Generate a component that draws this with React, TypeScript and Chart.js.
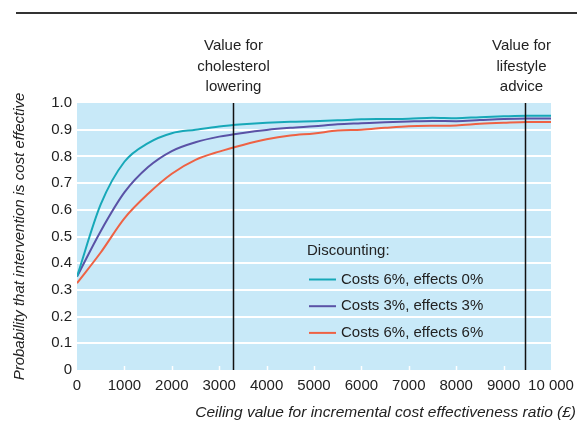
import React, { useEffect, useRef } from "react";
import { Chart, registerables } from "chart.js";

Chart.register(...registerables);

// ---- data ----
const ceilingValues = [0, 500, 1000, 1500, 2000, 2500, 3000, 3500, 4000, 4500, 5000, 5500, 6000, 6500, 7000, 7500, 8000, 8500, 9000, 9500, 10000];
const costs6Effects0 = [0.35, 0.62, 0.78, 0.85, 0.887, 0.9, 0.912, 0.92, 0.926, 0.93, 0.932, 0.935, 0.939, 0.94, 0.941, 0.945, 0.943, 0.947, 0.95, 0.952, 0.952];
const costs3Effects3 = [0.35, 0.52, 0.665, 0.76, 0.82, 0.853, 0.874, 0.888, 0.899, 0.907, 0.913, 0.92, 0.924, 0.928, 0.931, 0.933, 0.932, 0.936, 0.94, 0.942, 0.942];
const costs6Effects6 = [0.325, 0.44, 0.568, 0.66, 0.735, 0.787, 0.818, 0.843, 0.864, 0.878, 0.886, 0.897, 0.9, 0.907, 0.913, 0.915, 0.916, 0.922, 0.926, 0.929, 0.929];
const seriesLabels = ["Costs 6%, effects 0%", "Costs 3%, effects 3%", "Costs 6%, effects 6%"];
const xTickValues = [0, 1000, 2000, 3000, 4000, 5000, 6000, 7000, 8000, 9000, 10000];
const yTickValues = [0, 0.1, 0.2, 0.3, 0.4, 0.5, 0.6, 0.7, 0.8, 0.9, 1.0];
const annotations = [
  { value: 3300, lines: ["Value for", "cholesterol", "lowering"], shift: 0 },
  { value: 9450, lines: ["Value for", "lifestyle", "advice"], shift: -4 },
];
const legendTitle = "Discounting:";
const xTitle = "Ceiling value for incremental cost effectiveness ratio (£)";
const yTitle = "Probability that intervention is cost effective";

const COLORS = ["#17a8b8", "#5a52a6", "#ee6244"];
const BG = "#c8e9f8";
const FONT = "'Liberation Sans', Arial, sans-serif";
const TEXT = "#222";

const decorPlugin = {
  id: "decor",
  beforeDraw(chart: any) {
    const { ctx, chartArea: a } = chart;
    ctx.save();
    ctx.fillStyle = "#fff";
    ctx.fillRect(0, 0, chart.width, chart.height);
    ctx.fillStyle = BG;
    ctx.fillRect(a.left, a.top, a.right - a.left, a.bottom - a.top);
    // top rule
    ctx.fillStyle = "#333";
    ctx.fillRect(16, 12, chart.width - 16, 2);
    ctx.restore();
  },
  beforeDatasetsDraw(chart: any) {
    const { ctx, chartArea: a, scales } = chart;
    ctx.save();
    ctx.strokeStyle = "#fff";
    ctx.lineWidth = 1.5;
    xTickValues.forEach((v) => {
      if (v === 0 || v === 10000) return;
      const x = Math.round(scales.x.getPixelForValue(v)) + 0.5;
      ctx.beginPath();
      ctx.moveTo(x, a.bottom);
      ctx.lineTo(x, a.bottom - 4);
      ctx.stroke();
    });
    ctx.restore();
  },
  afterDatasetsDraw(chart: any) {
    const { ctx, chartArea: a, scales } = chart;
    ctx.save();
    // vertical reference lines + labels
    annotations.forEach((an) => {
      const x = Math.round(scales.x.getPixelForValue(an.value)) + 0.5;
      ctx.strokeStyle = "#111";
      ctx.lineWidth = 1.5;
      ctx.beginPath();
      ctx.moveTo(x, a.top);
      ctx.lineTo(x, a.bottom);
      ctx.stroke();
      ctx.fillStyle = TEXT;
      ctx.font = `15px ${FONT}`;
      ctx.textAlign = "center";
      ctx.textBaseline = "middle";
      an.lines.forEach((t, i) => ctx.fillText(t, x + an.shift, 46 + i * 20.5));
    });
    // legend
    ctx.font = `15px ${FONT}`;
    ctx.textAlign = "left";
    ctx.textBaseline = "middle";
    ctx.fillStyle = TEXT;
    ctx.fillText(legendTitle, 307, 251);
    chart.data.datasets.forEach((ds: any, i: number) => {
      const y = 279.5 + i * 26.7;
      ctx.strokeStyle = ds.borderColor;
      ctx.lineWidth = 2;
      ctx.beginPath();
      ctx.moveTo(309, y);
      ctx.lineTo(336, y);
      ctx.stroke();
      ctx.fillStyle = TEXT;
      ctx.fillText(ds.label, 341, y);
    });
    // axis titles
    ctx.font = `italic 15.5px ${FONT}`;
    ctx.fillStyle = TEXT;
    ctx.textAlign = "right";
    ctx.fillText(xTitle, 576, 413);
    ctx.font = `italic 15px ${FONT}`;
    ctx.save();
    ctx.translate(20, (a.top + a.bottom) / 2);
    ctx.rotate(-Math.PI / 2);
    ctx.textAlign = "center";
    ctx.fillText(yTitle, 0, 0);
    ctx.restore();
    ctx.restore();
  },
};

export default function App() {
  const ref = useRef<HTMLCanvasElement>(null);
  useEffect(() => {
    if (!ref.current) return;
    const series = [costs6Effects0, costs3Effects3, costs6Effects6];
    const chart = new Chart(ref.current, {
      type: "line",
      data: {
        datasets: series.map((s, i) => ({
          label: seriesLabels[i],
          data: s.map((y, j) => ({ x: ceilingValues[j], y })),
          borderColor: COLORS[i],
          backgroundColor: COLORS[i],
          borderWidth: 2,
          pointRadius: 0,
          cubicInterpolationMode: "monotone" as const,
          fill: false,
        })),
      },
      options: {
        animation: false,
        responsive: false,
        devicePixelRatio: 1,
        layout: { padding: { top: 103, right: 26, left: 0, bottom: 0 } },
        plugins: { legend: { display: false }, tooltip: { enabled: false } },
        scales: {
          x: {
            type: "linear",
            min: 0,
            max: 10000,
            afterFit: (s: any) => { s.height = 55; s.paddingLeft = 0; s.paddingRight = 0; },
            afterBuildTicks: (s: any) => { s.ticks = xTickValues.map((v) => ({ value: v })); },
            grid: { display: false, drawTicks: false },
            border: { display: false },
            ticks: {
              autoSkip: false,
              maxRotation: 0,
              padding: 7,
              color: TEXT,
              font: { size: 15, family: FONT },
              callback: (v: any) => (v === 10000 ? "10 000" : String(v)),
            },
          },
          y: {
            min: 0,
            max: 1,
            afterFit: (s: any) => { s.width = 77; s.paddingTop = 0; s.paddingBottom = 0; },
            afterBuildTicks: (s: any) => { s.ticks = yTickValues.map((v) => ({ value: v })); },
            grid: {
              drawTicks: false,
              lineWidth: 2,
              color: (c: any) => (c.tick && (c.tick.value <= 0 || c.tick.value >= 1) ? "rgba(0,0,0,0)" : "#ffffff"),
            },
            border: { display: false },
            ticks: {
              padding: 5,
              color: TEXT,
              font: { size: 15, family: FONT },
              callback: (v: any) => (v === 0 ? "0" : Number(v).toFixed(1)),
            },
          },
        },
      },
      plugins: [decorPlugin],
    });
    return () => chart.destroy();
  }, []);
  return (
    <div style={{ position: "fixed", left: 0, top: 0, width: 577, height: 425, background: "#fff" }}>
      <canvas ref={ref} width={577} height={425} style={{ display: "block" }} />
    </div>
  );
}
